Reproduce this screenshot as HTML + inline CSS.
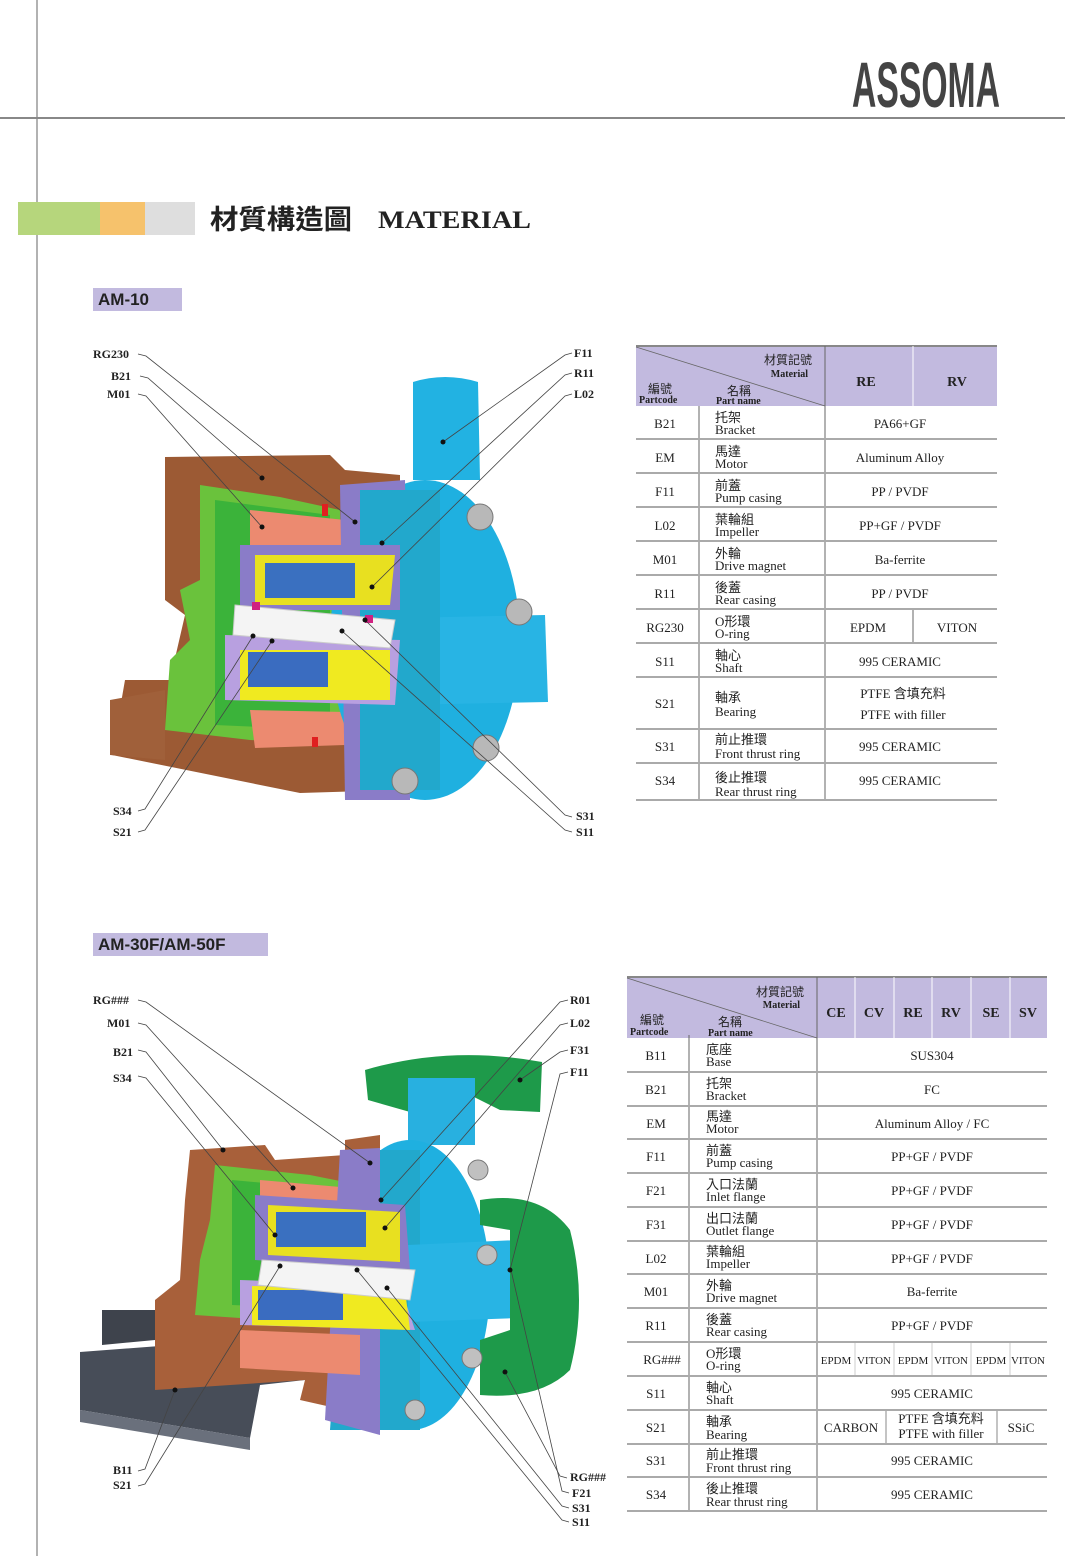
<!DOCTYPE html>
<html><head><meta charset="utf-8"><style>
html,body{margin:0;padding:0;background:#fff}
svg{display:block}
text{font-family:"Liberation Serif","Noto Serif CJK SC",serif;fill:#222}
.cj{font-family:"Liberation Serif","Noto Sans CJK TC",sans-serif}
.lb{font-size:12px;font-weight:bold;fill:#222}
.ld{stroke:#444;stroke-width:0.8;fill:none}
.c{font-size:13px;text-anchor:middle}
.n{font-size:13px}
.sep{stroke:#aaa;stroke-width:2}
.vl{stroke:#666;stroke-width:1}
</style></head><body>
<svg width="1065" height="1556" viewBox="0 0 1065 1556" xmlns="http://www.w3.org/2000/svg">
<rect width="1065" height="1556" fill="#fff"/>
<line x1="37" y1="0" x2="37" y2="1556" stroke="#999" stroke-width="1.5"/>
<line x1="0" y1="118" x2="1065" y2="118" stroke="#888" stroke-width="2"/>
<text x="852" y="107" font-size="64" textLength="148" lengthAdjust="spacingAndGlyphs" style="font-family:'Liberation Sans Narrow','Liberation Sans',sans-serif;fill:#444;font-weight:bold">ASSOMA</text>

<rect x="18" y="202" width="82" height="33" fill="#b6d67c"/>
<rect x="100" y="202" width="45" height="33" fill="#f6c26c"/>
<rect x="145" y="202" width="50" height="33" fill="#dedede"/>
<text x="210" y="229" font-size="27" font-weight="bold" class="cj" textLength="142" lengthAdjust="spacingAndGlyphs">材質構造圖</text>
<text x="378" y="228" font-size="25" font-weight="bold" textLength="153" lengthAdjust="spacingAndGlyphs">MATERIAL</text>

<rect x="93" y="288" width="89" height="23" fill="#c2badf"/>
<text x="98" y="305" font-size="17" font-weight="bold" style="font-family:'Liberation Sans',sans-serif;fill:#222">AM-10</text>
<rect x="93" y="933" width="175" height="23" fill="#c2badf"/>
<text x="98" y="950" font-size="17" font-weight="bold" style="font-family:'Liberation Sans',sans-serif;fill:#222">AM-30F/AM-50F</text>

<!-- ===== TOP PUMP ===== -->
<g>
<path d="M165,457 L330,455 L345,470 L400,475 L400,790 L300,793 L112,755 L125,680 L170,680 L185,615 L165,600 Z" fill="#9c5a34"/>
<path d="M110,700 L165,690 L165,760 L110,755 Z" fill="#a0603a"/>
<path d="M200,485 L280,497 L340,510 L345,745 L250,740 L165,730 L170,660 L190,640 L180,590 L200,580 Z" fill="#6ac23c"/>
<path d="M215,500 L330,515 L330,730 L215,725 Z" fill="#3bb33a"/>
<path d="M250,510 L345,520 L350,560 L250,545 Z" fill="#ec8a70"/>
<path d="M250,710 L345,712 L345,745 L255,748 Z" fill="#ec8a70"/>
<ellipse cx="425" cy="640" rx="95" ry="160" fill="#1fb0e0"/>
<path d="M400,618 L545,615 L548,702 L400,705 Z" fill="#28b4e4"/>
<path d="M413,382 Q445,372 478,382 L480,480 L413,480 Z" fill="#22b2e2"/>
<path d="M340,485 L405,480 L410,800 L345,800 Z" fill="#8a7cc8"/>
<path d="M360,490 L440,490 L440,790 L360,790 Z" fill="#22a8cc"/>
<path d="M240,545 L400,545 L400,610 L240,610 Z" fill="#8a7cc8"/>
<path d="M255,555 L395,555 L390,605 L255,605 Z" fill="#e8e020"/>
<rect x="265" y="563" width="90" height="35" fill="#3a70c0"/>
<path d="M225,635 L400,640 L395,705 L225,700 Z" fill="#b8a0e0"/>
<path d="M240,650 L390,650 L390,700 L240,700 Z" fill="#f0ea20"/>
<rect x="248" y="652" width="80" height="35" fill="#3a6cc0"/>
<path d="M235,605 L395,620 L390,648 L233,635 Z" fill="#f4f4f4" stroke="#ccc"/>
<rect x="252" y="602" width="8" height="8" fill="#d02080"/>
<rect x="365" y="615" width="8" height="8" fill="#d02080"/>
<rect x="322" y="504" width="6" height="12" fill="#e02020"/>
<rect x="312" y="737" width="6" height="10" fill="#e02020"/>
<g fill="#b8b8b8" stroke="#777"><circle cx="480" cy="517" r="13"/><circle cx="519" cy="612" r="13"/><circle cx="486" cy="748" r="13"/><circle cx="405" cy="781" r="13"/></g>
</g>
<g class="lb">
<text x="93" y="358">RG230</text><text x="111" y="380">B21</text><text x="107" y="398">M01</text>
<text x="574" y="357">F11</text><text x="574" y="377">R11</text><text x="574" y="398">L02</text>
<text x="113" y="815">S34</text><text x="113" y="836">S21</text>
<text x="576" y="820">S31</text><text x="576" y="836">S11</text>
</g>
<g class="ld">
<path d="M138,354 L146,356 L355,522"/><path d="M140,376 L148,378 L262,478"/><path d="M138,394 L146,396 L262,527"/>
<path d="M572,353 L565,355 L443,442"/><path d="M572,373 L565,375 L382,543"/><path d="M572,394 L565,396 L372,587"/>
<path d="M138,811 L145,809 L253,636"/><path d="M138,832 L145,830 L272,641"/>
<path d="M572,817 L565,815 L365,620"/><path d="M572,832 L565,830 L342,631"/>
</g>
<g fill="#111"><circle cx="355" cy="522" r="2.5"/><circle cx="262" cy="478" r="2.5"/><circle cx="262" cy="527" r="2.5"/><circle cx="443" cy="442" r="2.5"/><circle cx="382" cy="543" r="2.5"/><circle cx="372" cy="587" r="2.5"/><circle cx="253" cy="636" r="2.5"/><circle cx="272" cy="641" r="2.5"/><circle cx="365" cy="620" r="2.5"/><circle cx="342" cy="631" r="2.5"/></g>

<!-- ===== TOP TABLE ===== -->
<rect x="636" y="346" width="361" height="60" fill="#c2badf"/>
<line x1="636" y1="346" x2="997" y2="346" stroke="#888" stroke-width="2"/>
<line x1="636" y1="347" x2="825" y2="406" stroke="#666" stroke-width="0.8"/>
<line x1="825" y1="346" x2="825" y2="800" class="vl"/>
<line x1="913" y1="346" x2="913" y2="406" stroke="#fff" stroke-width="1"/>
<line x1="913" y1="609" x2="913" y2="643" class="vl"/>
<line x1="699" y1="406" x2="699" y2="800" class="vl"/>
<text x="812" y="364" font-size="12" text-anchor="end" class="cj">材質記號</text>
<text x="808" y="377" font-size="10" font-weight="bold" text-anchor="end">Material</text>
<text x="648" y="393" font-size="12" class="cj">編號</text>
<text x="639" y="403" font-size="10" font-weight="bold">Partcode</text>
<text x="727" y="395" font-size="12" class="cj">名稱</text>
<text x="716" y="404" font-size="10" font-weight="bold">Part name</text>
<text x="866" y="386" font-size="14" font-weight="bold" text-anchor="middle">RE</text>
<text x="957" y="386" font-size="14" font-weight="bold" text-anchor="middle">RV</text>
<g class="sep"><line x1="636" y1="439" x2="997" y2="439"/><line x1="636" y1="473" x2="997" y2="473"/><line x1="636" y1="507" x2="997" y2="507"/><line x1="636" y1="541" x2="997" y2="541"/><line x1="636" y1="575" x2="997" y2="575"/><line x1="636" y1="609" x2="997" y2="609"/><line x1="636" y1="643" x2="997" y2="643"/><line x1="636" y1="677" x2="997" y2="677"/><line x1="636" y1="729" x2="997" y2="729"/><line x1="636" y1="763" x2="997" y2="763"/><line x1="636" y1="800" x2="997" y2="800"/></g>
<g class="c"><text x="665" y="428">B21</text><text x="665" y="462">EM</text><text x="665" y="496">F11</text><text x="665" y="530">L02</text><text x="665" y="564">M01</text><text x="665" y="598">R11</text><text x="665" y="632">RG230</text><text x="665" y="666">S11</text><text x="665" y="708">S21</text><text x="665" y="751">S31</text><text x="665" y="785">S34</text></g>
<g class="n">
<text x="715" y="422" class="cj">托架</text><text x="715" y="434">Bracket</text>
<text x="715" y="456" class="cj">馬達</text><text x="715" y="468">Motor</text>
<text x="715" y="490" class="cj">前蓋</text><text x="715" y="502">Pump casing</text>
<text x="715" y="524" class="cj">葉輪組</text><text x="715" y="536">Impeller</text>
<text x="715" y="558" class="cj">外輪</text><text x="715" y="570">Drive magnet</text>
<text x="715" y="592" class="cj">後蓋</text><text x="715" y="604">Rear casing</text>
<text x="715" y="626" class="cj">O形環</text><text x="715" y="638">O-ring</text>
<text x="715" y="660" class="cj">軸心</text><text x="715" y="672">Shaft</text>
<text x="715" y="702" class="cj">軸承</text><text x="715" y="716">Bearing</text>
<text x="715" y="744" class="cj">前止推環</text><text x="715" y="758">Front thrust ring</text>
<text x="715" y="782" class="cj">後止推環</text><text x="715" y="796">Rear thrust ring</text>
</g>
<g class="c">
<text x="900" y="428">PA66+GF</text><text x="900" y="462">Aluminum Alloy</text><text x="900" y="496">PP / PVDF</text><text x="900" y="530">PP+GF / PVDF</text><text x="900" y="564">Ba-ferrite</text><text x="900" y="598">PP / PVDF</text>
<text x="868" y="632">EPDM</text><text x="957" y="632">VITON</text>
<text x="900" y="666">995 CERAMIC</text>
<text x="903" y="698" class="cj">PTFE 含填充料</text><text x="903" y="719">PTFE with filler</text>
<text x="900" y="751">995 CERAMIC</text><text x="900" y="785">995 CERAMIC</text>
</g>

<!-- ===== BOTTOM PUMP ===== -->
<g>
<path d="M80,1352 L305,1335 L305,1380 L260,1385 L250,1438 L80,1410 Z" fill="#474d58"/>
<path d="M80,1410 L250,1438 L250,1450 L80,1422 Z" fill="#6a707c"/>
<path d="M102,1310 L155,1310 L155,1340 L102,1345 Z" fill="#3e434c"/>
<path d="M190,1150 L265,1145 L275,1160 L345,1155 L345,1140 L380,1135 L380,1418 L300,1400 L305,1380 L155,1390 L155,1300 L180,1280 L185,1200 Z" fill="#a8603a"/>
<path d="M215,1165 L310,1175 L360,1185 L370,1320 L270,1320 L195,1315 L200,1260 L210,1220 Z" fill="#6ac23c"/>
<path d="M232,1180 L340,1190 L350,1310 L232,1305 Z" fill="#3bb33a"/>
<path d="M260,1180 L375,1190 L378,1225 L260,1215 Z" fill="#ec8a70"/>
<path d="M365,1070 Q450,1045 542,1062 L540,1112 L500,1110 L470,1095 L440,1100 L410,1112 L368,1100 Z" fill="#1e9a4a"/>
<path d="M408,1078 L475,1078 L475,1145 L408,1145 Z" fill="#28b0e0"/>
<ellipse cx="410" cy="1285" rx="80" ry="145" fill="#1fb0e0"/>
<path d="M350,1150 L420,1150 L420,1430 L330,1430 Z" fill="#22a8cc"/>
<path d="M340,1150 L380,1148 L380,1435 L325,1420 Z" fill="#8a7cc8"/>
<path d="M408,1245 L518,1240 L518,1318 L408,1322 Z" fill="#28b4e4"/>
<path d="M480,1200 Q540,1190 570,1230 Q588,1300 570,1370 Q540,1400 480,1395 L480,1340 L510,1330 L510,1230 L480,1225 Z" fill="#1e9a4a"/>
<path d="M255,1195 L405,1205 L410,1270 L255,1260 Z" fill="#8a7cc8"/>
<path d="M268,1205 L400,1212 L400,1262 L268,1255 Z" fill="#e8e020"/>
<rect x="276" y="1212" width="90" height="35" fill="#3a70c0"/>
<path d="M240,1280 L400,1285 L415,1330 L240,1325 Z" fill="#b8a0e0"/>
<path d="M252,1286 L405,1290 L410,1330 L252,1325 Z" fill="#f0ea20"/>
<rect x="258" y="1290" width="85" height="30" fill="#3a6cc0"/>
<path d="M262,1260 L415,1270 L410,1300 L258,1285 Z" fill="#f4f4f4" stroke="#ccc"/>
<path d="M240,1330 L360,1335 L360,1375 L240,1368 Z" fill="#ec8a70"/>
<g fill="#c0c0c0" stroke="#777"><circle cx="478" cy="1170" r="10"/><circle cx="487" cy="1255" r="10"/><circle cx="472" cy="1358" r="10"/><circle cx="415" cy="1410" r="10"/></g>
</g>
<g class="lb">
<text x="93" y="1004">RG###</text><text x="107" y="1027">M01</text><text x="113" y="1056">B21</text><text x="113" y="1082">S34</text>
<text x="570" y="1004">R01</text><text x="570" y="1027">L02</text><text x="570" y="1054">F31</text><text x="570" y="1076">F11</text>
<text x="113" y="1474">B11</text><text x="113" y="1489">S21</text>
<text x="570" y="1481">RG###</text><text x="572" y="1497">F21</text><text x="572" y="1512">S31</text><text x="572" y="1526">S11</text>
</g>
<g class="ld">
<path d="M138,1000 L146,1002 L370,1163"/><path d="M138,1023 L146,1025 L293,1188"/><path d="M138,1050 L146,1052 L223,1150"/><path d="M138,1076 L146,1078 L275,1235"/>
<path d="M568,1000 L560,1002 L381,1200"/><path d="M568,1023 L560,1025 L385,1228"/><path d="M568,1050 L560,1052 L520,1080"/><path d="M568,1072 L560,1074 L510,1270"/>
<path d="M138,1471 L145,1469 L175,1390"/><path d="M138,1486 L145,1484 L280,1266"/>
<path d="M567,1478 L560,1476 L505,1372"/><path d="M569,1493 L562,1491 L511,1270"/><path d="M569,1508 L562,1506 L387,1288"/><path d="M569,1522 L562,1520 L357,1270"/>
</g>
<g fill="#111"><circle cx="370" cy="1163" r="2.5"/><circle cx="293" cy="1188" r="2.5"/><circle cx="223" cy="1150" r="2.5"/><circle cx="275" cy="1235" r="2.5"/><circle cx="381" cy="1200" r="2.5"/><circle cx="385" cy="1228" r="2.5"/><circle cx="520" cy="1080" r="2.5"/><circle cx="510" cy="1270" r="2.5"/><circle cx="175" cy="1390" r="2.5"/><circle cx="280" cy="1266" r="2.5"/><circle cx="505" cy="1372" r="2.5"/><circle cx="387" cy="1288" r="2.5"/><circle cx="357" cy="1270" r="2.5"/></g>

<!-- ===== BOTTOM TABLE ===== -->
<rect x="627" y="977" width="420" height="61" fill="#c2badf"/>
<line x1="627" y1="977" x2="1047" y2="977" stroke="#888" stroke-width="2"/>
<line x1="627" y1="978" x2="817" y2="1038" stroke="#666" stroke-width="0.8"/>
<g stroke="#fff" stroke-width="1"><line x1="855" y1="977" x2="855" y2="1038"/><line x1="894" y1="977" x2="894" y2="1038"/><line x1="932" y1="977" x2="932" y2="1038"/><line x1="971" y1="977" x2="971" y2="1038"/><line x1="1010" y1="977" x2="1010" y2="1038"/></g>
<line x1="817" y1="977" x2="817" y2="1511" class="vl"/>
<line x1="689" y1="1035" x2="689" y2="1511" class="vl"/>
<g stroke="#ccc" stroke-width="1"><line x1="855" y1="1342" x2="855" y2="1376"/><line x1="894" y1="1342" x2="894" y2="1376"/><line x1="932" y1="1342" x2="932" y2="1376"/><line x1="971" y1="1342" x2="971" y2="1376"/><line x1="1010" y1="1342" x2="1010" y2="1376"/></g>
<g stroke="#888" stroke-width="1"><line x1="886" y1="1410" x2="886" y2="1444"/><line x1="997" y1="1410" x2="997" y2="1444"/></g>
<text x="804" y="996" font-size="12" text-anchor="end" class="cj">材質記號</text>
<text x="800" y="1008" font-size="10" font-weight="bold" text-anchor="end">Material</text>
<text x="640" y="1024" font-size="12" class="cj">編號</text>
<text x="630" y="1035" font-size="10" font-weight="bold">Partcode</text>
<text x="718" y="1026" font-size="12" class="cj">名稱</text>
<text x="708" y="1036" font-size="10" font-weight="bold">Part name</text>
<g font-size="14" font-weight="bold" text-anchor="middle"><text x="836" y="1017">CE</text><text x="874" y="1017">CV</text><text x="913" y="1017">RE</text><text x="951" y="1017">RV</text><text x="991" y="1017">SE</text><text x="1028" y="1017">SV</text></g>
<g class="sep"><line x1="627" y1="1072" x2="1047" y2="1072"/><line x1="627" y1="1106" x2="1047" y2="1106"/><line x1="627" y1="1139" x2="1047" y2="1139"/><line x1="627" y1="1173" x2="1047" y2="1173"/><line x1="627" y1="1207" x2="1047" y2="1207"/><line x1="627" y1="1241" x2="1047" y2="1241"/><line x1="627" y1="1274" x2="1047" y2="1274"/><line x1="627" y1="1308" x2="1047" y2="1308"/><line x1="627" y1="1342" x2="1047" y2="1342"/><line x1="627" y1="1376" x2="1047" y2="1376"/><line x1="627" y1="1410" x2="1047" y2="1410"/><line x1="627" y1="1444" x2="1047" y2="1444"/><line x1="627" y1="1477" x2="1047" y2="1477"/><line x1="627" y1="1511" x2="1047" y2="1511"/></g>
<g class="c"><text x="656" y="1060">B11</text><text x="656" y="1094">B21</text><text x="656" y="1128">EM</text><text x="656" y="1161">F11</text><text x="656" y="1195">F21</text><text x="656" y="1229">F31</text><text x="656" y="1263">L02</text><text x="656" y="1296">M01</text><text x="656" y="1330">R11</text><text x="662" y="1364">RG###</text><text x="656" y="1398">S11</text><text x="656" y="1432">S21</text><text x="656" y="1465">S31</text><text x="656" y="1499">S34</text></g>
<g class="n">
<text x="706" y="1054" class="cj">底座</text><text x="706" y="1066">Base</text>
<text x="706" y="1088" class="cj">托架</text><text x="706" y="1100">Bracket</text>
<text x="706" y="1121" class="cj">馬達</text><text x="706" y="1133">Motor</text>
<text x="706" y="1155" class="cj">前蓋</text><text x="706" y="1167">Pump casing</text>
<text x="706" y="1189" class="cj">入口法蘭</text><text x="706" y="1201">Inlet flange</text>
<text x="706" y="1223" class="cj">出口法蘭</text><text x="706" y="1235">Outlet flange</text>
<text x="706" y="1256" class="cj">葉輪組</text><text x="706" y="1268">Impeller</text>
<text x="706" y="1290" class="cj">外輪</text><text x="706" y="1302">Drive magnet</text>
<text x="706" y="1324" class="cj">後蓋</text><text x="706" y="1336">Rear casing</text>
<text x="706" y="1358" class="cj">O形環</text><text x="706" y="1370">O-ring</text>
<text x="706" y="1392" class="cj">軸心</text><text x="706" y="1404">Shaft</text>
<text x="706" y="1426" class="cj">軸承</text><text x="706" y="1439">Bearing</text>
<text x="706" y="1459" class="cj">前止推環</text><text x="706" y="1472">Front thrust ring</text>
<text x="706" y="1493" class="cj">後止推環</text><text x="706" y="1506">Rear thrust ring</text>
</g>
<g class="c">
<text x="932" y="1060">SUS304</text><text x="932" y="1094">FC</text><text x="932" y="1128">Aluminum Alloy / FC</text><text x="932" y="1161">PP+GF / PVDF</text><text x="932" y="1195">PP+GF / PVDF</text><text x="932" y="1229">PP+GF / PVDF</text><text x="932" y="1263">PP+GF / PVDF</text><text x="932" y="1296">Ba-ferrite</text><text x="932" y="1330">PP+GF / PVDF</text>
<g font-size="11"><text x="836" y="1364">EPDM</text><text x="874" y="1364">VITON</text><text x="913" y="1364">EPDM</text><text x="951" y="1364">VITON</text><text x="991" y="1364">EPDM</text><text x="1028" y="1364">VITON</text></g>
<text x="932" y="1398">995 CERAMIC</text>
<text x="851" y="1432">CARBON</text><text x="941" y="1423" class="cj">PTFE 含填充料</text><text x="941" y="1438">PTFE with filler</text><text x="1021" y="1432">SSiC</text>
<text x="932" y="1465">995 CERAMIC</text><text x="932" y="1499">995 CERAMIC</text>
</g>
</svg>
</body></html>
